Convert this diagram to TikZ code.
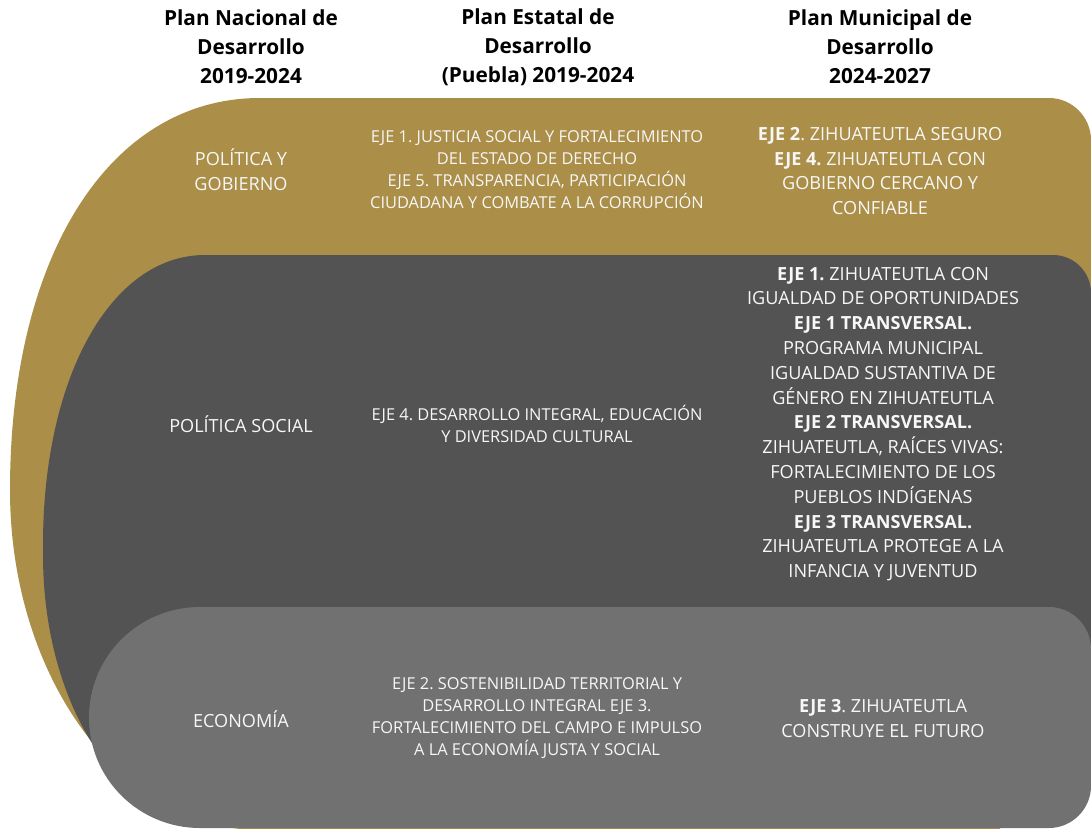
\documentclass[tikz,border=0pt]{standalone}
\usepackage{fontspec}
\setmainfont{Open Sans}
\definecolor{gold}{HTML}{AB8E47}
\definecolor{darkg}{HTML}{535353}
\definecolor{lightg}{HTML}{717171}
\definecolor{txtw}{HTML}{F7F7F7}
\frenchspacing
\begin{document}
\begin{tikzpicture}[x=1pt,y=-1pt,
  hdr/.style={font=\bfseries\fontsize{20.8}{29}\selectfont, align=center, inner sep=0pt, text=black},
  lbl/.style={font=\fontsize{18.1}{24.8}\selectfont, align=center, inner sep=0pt, text=txtw},
  mid/.style={font=\fontsize{16.4}{22}\selectfont, align=center, inner sep=0pt, text=txtw}]
\useasboundingbox (0,0) rectangle (1091,828);
\clip (0,0) rectangle (1091,828);
% gold band
\fill[gold] (10,490) .. controls (10,255) and (110,98) .. (260,98) -- (1049,98)
  .. controls (1072,98) and (1091,117) .. (1091,140) -- (1091,700) -- (1000,700)
  -- (1000,830) -- (260,830) .. controls (122,830) and (10,678) .. (10,490) -- cycle;
% dark band
\fill[darkg] (43,545) .. controls (43,377) and (111,255) .. (205,255) -- (1053,255)
  .. controls (1074,255) and (1091,272) .. (1091,293) -- (1091,720) -- (1000,815)
  -- (200,815) .. controls (114,815) and (43,698) .. (43,555) -- cycle;
% light band
\fill[lightg] (200,607) -- (1049,607) .. controls (1072,607) and (1091,626) .. (1091,649)
  -- (1091,786) .. controls (1091,809) and (1072,828) .. (1049,828) -- (200,828)
  .. controls (139,828) and (89,779) .. (89,717.5) .. controls (89,656) and (139,607) .. (200,607) -- cycle;
% headers
\node[hdr] (h1) at (251,47) {Plan Nacional de\\Desarrollo\\2019-2024};
\node[hdr] (h2) at (538,47) {Plan Estatal de\\Desarrollo\\(Puebla) 2019-2024};
\node[hdr] (h3) at (880,47) {Plan Municipal de\\Desarrollo\\2024-2027};
% row 1
\node[lbl] (r1a) at (241,170) {POLÍTICA Y\\GOBIERNO};
\node[mid] (r1b) at (537,170) {EJE 1. JUSTICIA SOCIAL Y FORTALECIMIENTO\\DEL ESTADO DE DERECHO\\EJE 5. TRANSPARENCIA, PARTICIPACIÓN\\CIUDADANA Y COMBATE A LA CORRUPCIÓN};
\node[lbl] (r1c) at (880,171) {\textbf{EJE 2}. ZIHUATEUTLA SEGURO\\\textbf{EJE 4.} ZIHUATEUTLA CON\\GOBIERNO CERCANO Y\\CONFIABLE};
% row 2
\node[lbl] (r2a) at (241,424) {POLÍTICA SOCIAL};
\node[mid] (r2b) at (537,423.5) {EJE 4. DESARROLLO INTEGRAL, EDUCACIÓN\\Y DIVERSIDAD CULTURAL};
\node[lbl] (r2c) at (883,424) {\textbf{EJE 1.} ZIHUATEUTLA CON\\IGUALDAD DE OPORTUNIDADES\\\textbf{EJE 1 TRANSVERSAL.}\\PROGRAMA MUNICIPAL\\IGUALDAD SUSTANTIVA DE\\GÉNERO EN ZIHUATEUTLA\\\textbf{EJE 2 TRANSVERSAL.}\\ZIHUATEUTLA, RAÍCES VIVAS:\\FORTALECIMIENTO DE LOS\\PUEBLOS INDÍGENAS\\\textbf{EJE 3 TRANSVERSAL.}\\ZIHUATEUTLA PROTEGE A LA\\INFANCIA Y JUVENTUD};
% row 3
\node[lbl] (r3a) at (241,719) {ECONOMÍA};
\node[mid] (r3b) at (537,718) {EJE 2. SOSTENIBILIDAD TERRITORIAL Y\\DESARROLLO INTEGRAL EJE 3.\\FORTALECIMIENTO DEL CAMPO E IMPULSO\\A LA ECONOMÍA JUSTA Y SOCIAL};
\node[lbl] (r3c) at (883,718.5) {\textbf{EJE 3}. ZIHUATEUTLA\\CONSTRUYE EL FUTURO};
\end{tikzpicture}
\end{document}
